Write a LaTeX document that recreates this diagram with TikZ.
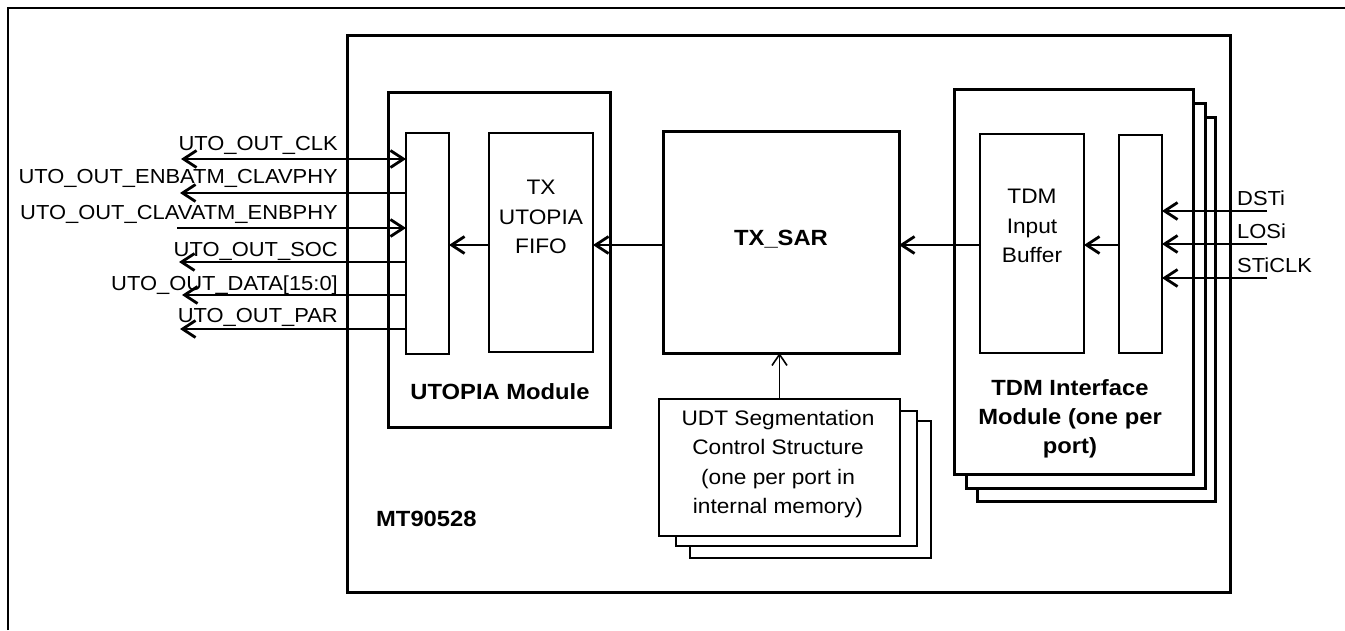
\documentclass[tikz,border=0pt]{standalone}
\usepackage{fontspec}
\setmainfont{Liberation Sans}[FakeStretch=1.08]
\usetikzlibrary{arrows.meta}
\newcommand\myreg{\fontsize{21}{29.5}\selectfont}
\newcommand\mybold{\fontsize{22}{29}\selectfont\bfseries}
\newcommand\mylbl{\fontsize{20.3}{24}\selectfont}
\begin{document}
\begin{tikzpicture}[x=1pt,y=-1pt,
  >={Straight Barb[length=13pt,width=17pt]},
  blk/.style={draw, rectangle, inner sep=0pt, outer sep=0pt, line width=3pt, fill=white},
  thinblk/.style={draw, rectangle, inner sep=0pt, outer sep=0pt, line width=2pt, fill=white},
  sig/.style={line width=2.8pt},
  txt/.style={inner sep=0pt, align=center, font=\myreg},
  btxt/.style={inner sep=0pt, align=center, font=\mybold},
  lbl/.style={inner sep=0pt, font=\mylbl}]
\useasboundingbox (0,0) rectangle (1345,630);
% outer frame
\draw[line width=2.2pt] (8,630) -- (8,8) -- (1345,8);
% main chip box
\node[blk, minimum width=883pt, minimum height=557pt] (main) at (788.5,313.5) {};
\node[btxt, anchor=base west] (mainlbl) at (376,526) {MT90528};
% UTOPIA module
\node[blk, minimum width=222pt, minimum height=335pt] (utmod) at (499,259.5) {};
\node[thinblk, minimum width=43pt, minimum height=221pt] (intf) at (427.5,243.5) {};
\node[thinblk, minimum width=104pt, minimum height=219pt] (fifo) at (541,242.5) {};
\node[txt] (fifot) at (541,217) {TX\\UTOPIA\\FIFO};
\node[btxt] (utmodt) at (500,392) {UTOPIA Module};
% TX_SAR
\node[blk, minimum width=236pt, minimum height=222pt] (txsar) at (781,242) {};
\node[btxt, anchor=base] (txsart) at (781,245) {TX\_SAR};
% UDT stack
\node[thinblk, minimum width=241pt, minimum height=137pt] (udt3) at (810.5,489.5) {};
\node[thinblk, minimum width=241pt, minimum height=135pt] (udt2) at (796.5,478.5) {};
\node[thinblk, minimum width=241pt, minimum height=137pt] (udt1) at (779.5,467.5) {};
\node[txt] (udtt) at (778,464) {UDT Segmentation\\Control Structure\\(one per port in\\internal memory)};
% TDM stack
\node[blk, minimum width=238pt, minimum height=384pt] (tdm3) at (1096,309) {};
\node[blk, minimum width=239pt, minimum height=385pt] (tdm2) at (1085.5,295.5) {};
\node[blk, minimum width=239pt, minimum height=385pt] (tdm1) at (1073.5,281.5) {};
\node[thinblk, minimum width=104pt, minimum height=219pt] (buffer) at (1032,243.5) {};
\node[txt] (buffert) at (1032,226) {TDM\\Input\\Buffer};
\node[thinblk, minimum width=43pt, minimum height=218pt] (tdmin) at (1140.5,244) {};
\node[btxt] (tdmt) at (1070,419) {TDM Interface\\Module (one per\\port)};
% data path
\coordinate (row) at (0,245);
\draw[sig,->] (tdmin.west |- row) -- (buffer.east |- row);
\draw[sig,->] (buffer.west |- row) -- (txsar.east |- row);
\draw[sig,->] (txsar.west |- row) -- (fifo.east |- row);
\draw[sig,->] (fifo.west |- row) -- (intf.east |- row);
\draw[line width=1.6pt, -{Straight Barb[length=11pt,width=15pt]}] (udt1.north) -- (txsar.south -| udt1.north);
% left signals
\coordinate (clkL) at (181,159);
\coordinate (enL) at (180,193);
\coordinate (clavL) at (177,228);
\coordinate (socL) at (179,262);
\coordinate (dataL) at (182,295);
\coordinate (parL) at (180,329);
\draw[sig,<->] (clkL) -- (intf.west |- clkL);
\draw[sig,<-] (enL) -- (intf.west |- enL);
\draw[sig,->] (clavL) -- (intf.west |- clavL);
\draw[sig,<-] (socL) -- (intf.west |- socL);
\draw[sig,<-] (dataL) -- (intf.west |- dataL);
\draw[sig,<-] (parL) -- (intf.west |- parL);
\node[lbl, anchor=base east] (clkT) at (338,150) {UTO\_OUT\_CLK};
\node[lbl, anchor=base east] (enT) at (338,183) {UTO\_OUT\_ENBATM\_CLAVPHY};
\node[lbl, anchor=base east] (clavT) at (338,219) {UTO\_OUT\_CLAVATM\_ENBPHY};
\node[lbl, anchor=base east] (socT) at (338,256) {UTO\_OUT\_SOC};
\node[lbl, anchor=base east] (dataT) at (338,290) {UTO\_OUT\_DATA[15:0]};
\node[lbl, anchor=base east] (parT) at (338,322) {UTO\_OUT\_PAR};
% right signals
\coordinate (dstiR) at (1267,211);
\coordinate (losiR) at (1267,244);
\coordinate (stiR) at (1267,278);
\draw[sig,->] (dstiR) -- (tdmin.east |- dstiR);
\draw[sig,->] (losiR) -- (tdmin.east |- losiR);
\draw[sig,->] (stiR) -- (tdmin.east |- stiR);
\node[lbl, anchor=base west] (dstiT) at (1237,205) {DSTi};
\node[lbl, anchor=base west] (losiT) at (1237,238) {LOSi};
\node[lbl, anchor=base west] (stiT) at (1237,272) {STiCLK};
\end{tikzpicture}
\end{document}
